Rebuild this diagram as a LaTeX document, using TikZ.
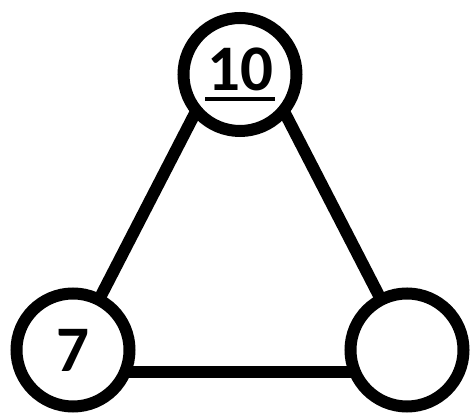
\documentclass[tikz,border=0pt]{standalone}
\usepackage{fontspec}
\setmainfont{Carlito}
\usetikzlibrary{positioning,backgrounds}

\newcommand{\thickul}[1]{\setbox0\hbox{#1}\rlap{\kern-2pt\rule[-10pt]{\dimexpr\wd0+4pt\relax}{4pt}}\box0}

\begin{document}
\begin{tikzpicture}[
    x=1pt, y=1pt,
    num/.style={circle, draw, fill=white, line width=12pt, minimum size=113pt, inner sep=0pt, font=\fontsize{65}{78}\selectfont\bfseries},
    link/.style={line width=12pt}
]
    \useasboundingbox (0,0) rectangle (471,414);
    \node[num] (top) at (240,339.5) {\thickul{10}};
    \node[num] (left) at (73,64) {7};
    \node[num] (right) at (407,64) {};
    \coordinate (apex) at (240,388);

    \begin{scope}[on background layer]
        \draw[link] (left.center) -- (apex);
        \draw[link] (right.center) -- (apex);
        \draw[link] ([yshift=-22pt]left.center) -- ([yshift=-22pt]right.center);
    \end{scope}
\end{tikzpicture}
\end{document}
